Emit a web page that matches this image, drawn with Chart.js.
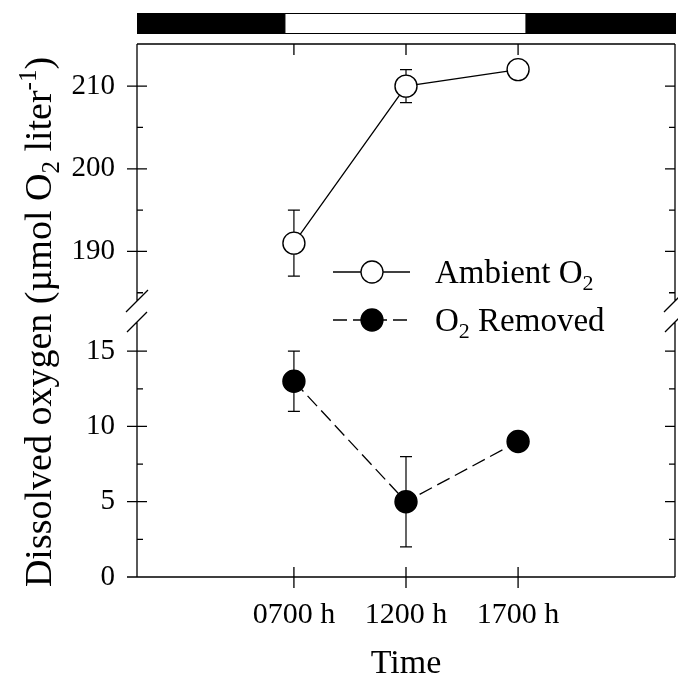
<!DOCTYPE html>
<html><head><meta charset="utf-8">
<script src="https://cdn.jsdelivr.net/npm/chart.js@4/dist/chart.umd.min.js"></script>
<style>html,body{margin:0;padding:0;background:#fff;overflow:hidden}#wrap{width:678px;height:683px}canvas{display:block}</style>
</head><body><div id="wrap"><canvas id="c" width="678" height="683"></canvas></div>
<script>
// ---- data ----
const timesH = [7, 12, 17];
const timeLabels = ['0700 h', '1200 h', '1700 h'];
const ambientO2 = [191, 210, 212];
const ambientErr = [4, 2, 0];
const removedO2 = [13, 5, 9];
const removedErr = [2, 3, 0];
const lightPeriod = [6.6, 17.35];
const upperTicks = [190, 200, 210];
const upperMinor = [185, 195, 205];
const lowerTicks = [0, 5, 10, 15];
const lowerMinor = [2.5, 7.5, 12.5];
const legendNames = ['Ambient O', 'O'];

const FONT = '"Liberation Serif", "Times New Roman", serif';
const errs = [ambientErr, removedErr];
const vals = [ambientO2, removedO2];

function font(size) { return size + 'px ' + FONT; }

const deco = {
  id: 'deco',
  beforeDatasetsDraw(chart) {
    const ctx = chart.ctx, xs = chart.scales.x;
    ctx.save();
    ctx.strokeStyle = '#000'; ctx.lineWidth = 1.2;
    chart.data.datasets.forEach((ds, i) => {
      const ys = chart.scales[ds.yAxisID];
      timesH.forEach((t, j) => {
        const e = errs[i][j]; if (!e) return;
        const x = xs.getPixelForValue(t);
        const y1 = ys.getPixelForValue(vals[i][j] + e), y2 = ys.getPixelForValue(vals[i][j] - e);
        ctx.beginPath();
        ctx.moveTo(x, y1); ctx.lineTo(x, y2);
        ctx.moveTo(x - 6, y1); ctx.lineTo(x + 6, y1);
        ctx.moveTo(x - 6, y2); ctx.lineTo(x + 6, y2);
        ctx.stroke();
      });
    });
    ctx.restore();
  },
  afterDraw(chart) {
    const ctx = chart.ctx, a = chart.chartArea, xs = chart.scales.x;
    const yl = chart.scales.y, yu = chart.scales.yTop;
    const L = a.left, R = a.right, T = a.top, B = a.bottom;
    const brU = 301, brL = 322;
    ctx.save();
    ctx.strokeStyle = '#000'; ctx.lineWidth = 1.3; ctx.lineCap = 'butt';
    ctx.beginPath();
    ctx.moveTo(L, T); ctx.lineTo(R, T);
    ctx.moveTo(L, B); ctx.lineTo(R, B);
    ctx.moveTo(L, T); ctx.lineTo(L, brU);
    ctx.moveTo(L, brL); ctx.lineTo(L, B);
    ctx.moveTo(R, T); ctx.lineTo(R, brU);
    ctx.moveTo(R, brL); ctx.lineTo(R, B);
    [L, R].forEach(x0 => {
      ctx.moveTo(x0 - 11, brU + 11); ctx.lineTo(x0 + 11, brU - 11);
      ctx.moveTo(x0 - 10, brL + 10); ctx.lineTo(x0 + 10, brL - 10);
    });
    [[yu, upperTicks, upperMinor], [yl, lowerTicks, lowerMinor]].forEach(([s, maj, mn]) => {
      maj.forEach(v => { const y = s.getPixelForValue(v);
        ctx.moveTo(L - 10, y); ctx.lineTo(L + 10, y);
        ctx.moveTo(R - 10, y); ctx.lineTo(R, y); });
      mn.forEach(v => { const y = s.getPixelForValue(v);
        ctx.moveTo(L, y); ctx.lineTo(L + 6, y);
        ctx.moveTo(R - 6, y); ctx.lineTo(R, y); });
    });
    timesH.forEach(t => { const x = xs.getPixelForValue(t);
      ctx.moveTo(x, B - 10); ctx.lineTo(x, B + 11);
      ctx.moveTo(x, T); ctx.lineTo(x, T + 11); });
    ctx.stroke();

    // light/dark bar
    const bT = 13, bB = 34;
    const w0 = xs.getPixelForValue(lightPeriod[0]), w1 = xs.getPixelForValue(lightPeriod[1]);
    ctx.fillStyle = '#000';
    ctx.fillRect(L, bT, w0 - L, bB - bT);
    ctx.fillRect(w1, bT, R + 1 - w1, bB - bT);
    ctx.lineWidth = 1;
    ctx.strokeRect(w0, bT + 0.5, w1 - w0, bB - bT - 1);

    // legend
    const rows = [{y: 272, dash: [], fill: '#fff', name: legendNames[0], after: ''},
                  {y: 320, dash: [14, 6], fill: '#000', name: legendNames[1], after: ' Removed'}];
    rows.forEach(r => {
      ctx.save();
      ctx.lineWidth = 1.3; ctx.setLineDash(r.dash);
      ctx.beginPath(); ctx.moveTo(333, r.y); ctx.lineTo(410, r.y); ctx.stroke();
      ctx.setLineDash([]);
      ctx.beginPath(); ctx.arc(372, r.y, 11, 0, Math.PI * 2);
      ctx.fillStyle = r.fill; ctx.fill(); ctx.stroke();
      ctx.fillStyle = '#000'; ctx.textBaseline = 'alphabetic'; ctx.textAlign = 'left';
      let x = 435; const base = r.y + 11;
      ctx.font = font(33); ctx.fillText(r.name, x, base); x += ctx.measureText(r.name).width;
      ctx.font = font(22); ctx.fillText('2', x, base + 7); x += ctx.measureText('2').width;
      if (r.after) { ctx.font = font(33); ctx.fillText(r.after, x, base); }
      ctx.restore();
    });

    // y title
    const parts = [['Dissolved oxygen (µmol O', 38, 0], ['2', 25, 8], [' liter', 38, 0], ['-1', 25, -15], [')', 38, 0]];
    let tw = 0;
    parts.forEach(p => { ctx.font = font(p[1]); tw += ctx.measureText(p[0]).width; });
    ctx.save();
    ctx.translate(51, 322); ctx.rotate(-Math.PI / 2);
    ctx.fillStyle = '#000'; ctx.textBaseline = 'alphabetic'; ctx.textAlign = 'left';
    let x = -tw / 2;
    parts.forEach(p => { ctx.font = font(p[1]); ctx.fillText(p[0], x, p[2]); x += ctx.measureText(p[0]).width; });
    ctx.restore();
    ctx.restore();
  }
};

const yCommon = (ticks, min, max) => ({
  type: 'linear', position: 'left', stack: 'v', stackWeight: 1, min, max,
  afterBuildTicks: s => { s.ticks = ticks.map(v => ({value: v})); },
  afterFit: s => { s.width = 137; s.paddingTop = 0; s.paddingBottom = 0; },
  grid: {display: false}, border: {display: false},
  ticks: {font: {family: FONT, size: 29}, color: '#000', padding: 14}
});

new Chart(document.getElementById('c'), {
  type: 'line',
  data: {
    datasets: [
      {label: 'Ambient O2', yAxisID: 'yTop', data: timesH.map((t, i) => ({x: t, y: ambientO2[i]})),
       borderColor: '#000', borderWidth: 1.3, pointRadius: 11, pointBackgroundColor: '#fff',
       pointBorderColor: '#000', pointBorderWidth: 1.4, tension: 0},
      {label: 'O2 Removed', yAxisID: 'y', data: timesH.map((t, i) => ({x: t, y: removedO2[i]})),
       borderColor: '#000', borderWidth: 1.3, borderDash: [14, 6], pointRadius: 11, pointBackgroundColor: '#000',
       pointBorderColor: '#000', pointBorderWidth: 1.4, tension: 0}
    ]
  },
  options: {
    responsive: false, animation: false, devicePixelRatio: 1,
    layout: {autoPadding: false, padding: {left: 0, top: 44, right: 3, bottom: 0}},
    plugins: {legend: {display: false}, tooltip: {enabled: false}},
    scales: {
      x: {type: 'linear', min: 0, max: 24,
        afterBuildTicks: s => { s.ticks = timesH.map(v => ({value: v})); },
        afterFit: s => { s.height = 106; s.paddingLeft = 0; s.paddingRight = 0; },
        grid: {display: false}, border: {display: false},
        ticks: {font: {family: FONT, size: 30}, color: '#000', padding: 12, maxRotation: 0, autoSkip: false,
          callback: v => timeLabels[timesH.indexOf(v)]},
        title: {display: true, text: 'Time', font: {family: FONT, size: 34, lineHeight: 1}, color: '#000', padding: {top: 0, bottom: 2}}
      },
      y: yCommon(lowerTicks, 0, 17.7),
      yTop: yCommon(upperTicks, 182.85, 215.1)
    }
  },
  plugins: [deco]
});
</script></body></html>
